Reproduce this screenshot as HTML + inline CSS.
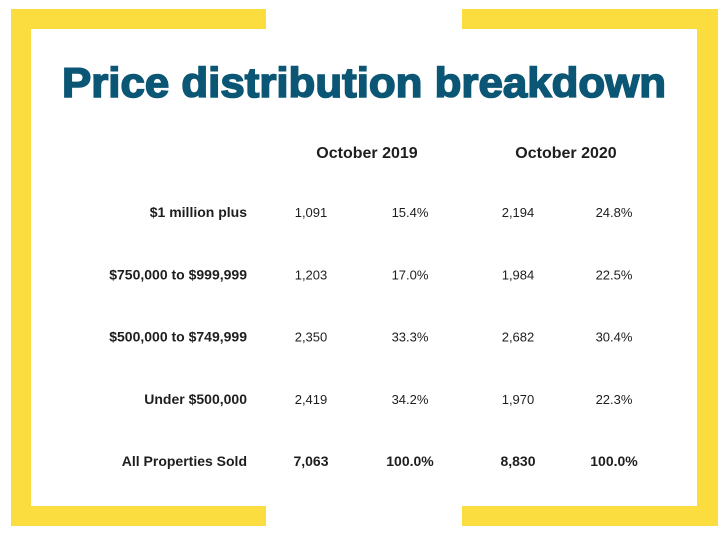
<!DOCTYPE html>
<html><head><meta charset="utf-8"><style>
html,body{margin:0;padding:0;background:#fff;width:728px;height:539px;overflow:hidden}
svg{display:block}
text{font-family:"Liberation Sans",sans-serif;fill:#1e1e1e}
</style></head><body>
<svg width="728" height="539">
<g fill="#fbdd3f">
<rect x="11" y="9" width="255" height="20"/><rect x="462" y="9" width="256" height="20"/>
<rect x="11" y="506" width="255" height="20"/><rect x="462" y="506" width="256" height="20"/>
<rect x="11" y="9" width="20" height="517"/><rect x="697" y="9" width="21" height="517"/>
</g>
<text x="364" y="97" text-anchor="middle" font-size="42" font-weight="bold" style="fill:#0b5674;stroke:#0b5674;stroke-width:1.6" textLength="604" lengthAdjust="spacingAndGlyphs">Price distribution breakdown</text>
<text x="367" y="158" text-anchor="middle" font-size="16" font-weight="bold">October 2019</text>
<text x="566" y="158" text-anchor="middle" font-size="16" font-weight="bold">October 2020</text>
<g id="rows"></g>
</svg>
<script>
const labels=["$1 million plus","$750,000 to $999,999","$500,000 to $749,999","Under $500,000","All Properties Sold"];
const count2019=["1,091","1,203","2,350","2,419","7,063"];
const pct2019=["15.4%","17.0%","33.3%","34.2%","100.0%"];
const count2020=["2,194","1,984","2,682","1,970","8,830"];
const pct2020=["24.8%","22.5%","30.4%","22.3%","100.0%"];
const g=document.getElementById('rows');
const ns='http://www.w3.org/2000/svg';
function t(x,y,s,anchor,bold,name){const e=document.createElementNS(ns,'text');e.setAttribute('x',x);e.setAttribute('y',y);e.setAttribute('text-anchor',anchor);e.setAttribute('font-size',bold?14:13);if(bold)e.setAttribute('font-weight','bold');e.textContent=s;


g.appendChild(e);}
labels.forEach((l,i)=>{const y=217+i*62.3;const last=i===labels.length-1;
t(247,y,l,'end',true,'row-label');
t(311,y,count2019[i],'middle',last,'count-2019');
t(410,y,pct2019[i],'middle',last,'pct-2019');
t(518,y,count2020[i],'middle',last,'count-2020');
t(614,y,pct2020[i],'middle',last,'pct-2020');});
</script>
</body></html>
